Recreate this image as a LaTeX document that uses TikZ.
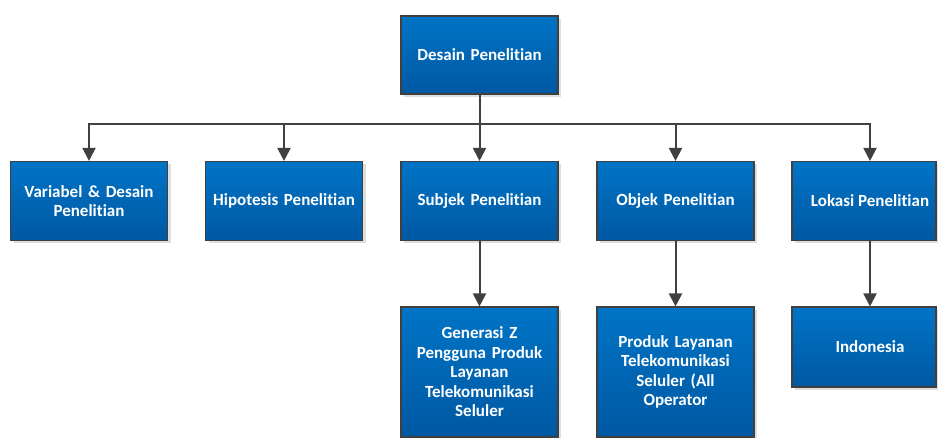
\documentclass[tikz,border=0pt]{standalone}
\usepackage{fontspec}
\setmainfont{Carlito}[BoldFont={Carlito Bold}, Ligatures={NoCommon,NoContextual}]
\usetikzlibrary{arrows.meta,shadows,positioning}
\definecolor{boxtop}{RGB}{0,116,198}
\definecolor{boxbot}{RGB}{0,88,162}
\definecolor{edge}{RGB}{64,64,64}
\definecolor{shade}{RGB}{222,222,222}
\tikzset{
  blk/.style={rectangle, draw=edge, line width=1.1pt, top color=boxtop, bottom color=boxbot,
    text=white, font=\fontsize{17}{19.5}\selectfont\bfseries, align=center,
    inner sep=0pt, minimum width=157pt, text width=152pt,
    general shadow={fill=shade, shadow xshift=3pt, shadow yshift=-3pt}},
  lbl/.style={text=white, font=\fontsize{17}{19.5}\selectfont\bfseries, align=center, inner sep=0pt},
  conn/.style={draw=edge, line width=2pt},
  arr/.style={conn, -{Triangle[width=13pt,length=13pt]}}
}
\begin{document}
\begin{tikzpicture}[x=1pt,y=-1pt]
\useasboundingbox (0,0) rectangle (938,438);
% top level
\node[blk, minimum height=78pt] (top) at (479.5,55) {Desain Penelitian};
% second level
\node[blk, minimum height=79pt] (r1) at (89,201) {Variabel \& Desain\\Penelitian};
\node[blk, minimum height=79pt] (r2) at (284,201) {Hipotesis Penelitian};
\node[blk, minimum height=79pt] (r3) at (479.5,201) {Subjek Penelitian};
\node[blk, minimum height=79pt] (r4) at (675.5,201) {Objek Penelitian};
\node[blk, minimum height=79pt, minimum width=144pt, text width=130pt] (r5) at (864,201) {};
\node[lbl] (r5t) at (870,201) {Lokasi Penelitian};
% third level
\node[blk, minimum height=130pt] (b3) at (479.5,372) {Generasi Z\\Pengguna Produk\\Layanan\\Telekomunikasi\\Seluler};
\node[blk, minimum height=130pt] (b4) at (675.5,372) {Produk Layanan\\Telekomunikasi\\Seluler (All\\Operator};
\node[blk, minimum height=80pt, minimum width=144pt, text width=130pt] (b5) at (864,347) {};
\node[lbl] (b5t) at (870,347) {Indonesia};
% connectors
\draw[conn] (top.south) -- ++(0,29) coordinate (bus);
\draw[arr] (bus) -| (r1.north);
\draw[arr] (bus) -| (r2.north);
\draw[arr] (top.south) -- (r3.north);
\draw[arr] (bus) -| (r4.north);
\draw[arr] (bus) -| (r5.north -| r5t);
\draw[arr] (r3.south) -- (b3.north);
\draw[arr] (r4.south) -- (b4.north);
\draw[arr] (r5.south -| r5t) -- (b5.north -| b5t);
\end{tikzpicture}
\end{document}
